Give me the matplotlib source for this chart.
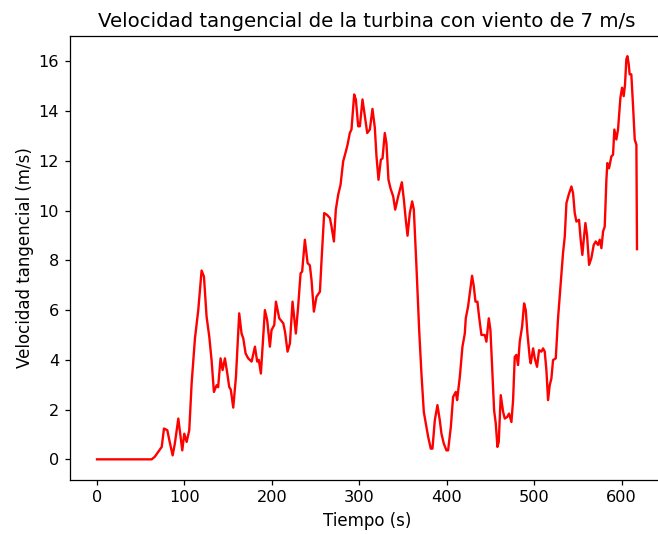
import matplotlib
matplotlib.use("Agg")
import matplotlib.pyplot as plt

# valores
tiempo = [0, 20, 40, 62.5, 66, 70, 74, 76.6, 80.4, 82.7, 86.5, 89, 93, 95.6, 97.5, 99.8,
          102.5, 105.5, 108.2, 112, 115.8, 119.6, 122.3, 125.3, 128.4, 131, 133.7, 136.8,
          138.5, 141.3, 143.6, 146.3, 149, 151.2, 153, 155.8, 158.9, 162.6, 165.3, 167.3,
          169.9, 172.9, 176.8, 180.6, 183.2, 185, 187.4, 192, 194.6, 197.7, 199.6, 202.7,
          204.6, 208.4, 213, 215, 217.9, 220.6, 223.6, 227.4, 230, 232.8, 234.6, 237.7,
          240.8, 243.4, 245.3, 248, 251, 254.9, 256.8, 259.8, 263, 266.3, 268.2, 270.9,
          273.1, 275.8, 278.5, 281.5, 284.6, 286.5, 289.1, 291, 294.1, 296, 298.7, 300.6,
          303.6, 306.3, 309, 312, 315, 317.7, 319.6, 321.9, 324.6, 326.5, 329.1, 331,
          333.3, 335.6, 338.7, 341, 344.4, 348.6, 350.9, 353.1, 355.1, 357.7, 360.4, 362.3,
          365.3, 368.4, 371, 373.7, 376, 378.7, 381.7, 383.6, 386.3, 389.3, 392, 393.9,
          396.6, 399.6, 401.5, 404.6, 407.2, 410.3, 411.8, 414.9, 417.9, 420.6, 421.7,
          424.3, 426.3, 428.9, 430.8, 432.8, 435, 436.9, 439.6, 443.4, 445.3, 448, 449.9,
          452.2, 454.1, 456, 457.9, 459.4, 461.7, 464.4, 466.3, 469, 471.2, 473.9, 475.8,
          477.7, 479.6, 481.5, 483.4, 486.1, 488.4, 490.3, 492.2, 494.9, 496, 498.7, 500.6,
          503.2, 505.5, 508.2, 510.1, 512, 513.9, 515.8, 517.7, 519.6, 521.5, 524.6, 527.2,
          530.3, 532.9, 534.9, 536.8, 539.4, 542.5, 544.4, 546.3, 548.2, 551.2, 553.1, 555,
          556.6, 558.5, 560.4, 562.7, 565.3, 568, 570.3, 572.9, 574.9, 576.8, 578.7, 580.6,
          582.5, 583.6, 585.5, 588.2, 590.1, 591.6, 593.9, 595.8, 598.5, 600.4, 602.3,
          603.8, 605.3, 606.5, 608, 609.1, 611, 613, 614.9, 616.8, 617.5]
velocidad = [0, 0, 0, 0, 0.1, 0.3, 0.5, 1.24, 1.17, 0.77, 0.16, 0.63, 1.64, 0.9, 0.36, 1.03,
             0.7, 1.17, 3.05, 4.86, 6.0, 7.59, 7.35, 5.74, 4.93, 3.99, 2.71, 2.98,
             2.9, 4.06, 3.59, 4.06, 3.45, 2.91, 2.8, 2.08, 3.32, 5.87, 5.06, 4.86,
             4.26, 4.06, 3.93, 4.53, 3.93, 4.0, 3.45, 6.0, 5.6, 4.53, 5.2, 5.4,
             6.34, 5.67, 5.47, 5.13, 4.33, 4.66, 6.34, 5.06, 6.14, 7.48, 7.55, 8.83,
             7.89, 7.8, 7.21, 5.94, 6.54, 6.74, 8.02, 9.9, 9.83, 9.7, 9.36, 8.76,
             10.04, 10.64, 11.04, 11.98, 12.38, 12.65, 13.12, 13.26, 14.67, 14.47, 13.39, 13.39,
             14.47, 13.8, 13.12, 13.26, 14.09, 13.33, 12.18, 11.24, 12.05, 12.1, 13.12, 12.7,
             11.24, 10.9, 10.57, 10.04, 10.57, 11.14, 10.44, 9.63, 8.99, 9.9, 10.37, 10.04,
             7.75, 5.2, 3.45, 1.91, 1.44, 0.9, 0.43, 0.43, 1.57, 2.18, 1.57, 1.03,
             0.63, 0.36, 0.36, 1.3, 2.51, 2.71, 2.38, 3.32, 4.53, 5.06, 5.67,
             6.14, 6.68, 7.38, 6.98, 6.34, 6.34, 5.74, 5.0, 5.0, 4.73, 5.67, 5.2,
             3.45, 1.97, 1.44, 0.5, 0.7, 2.58, 1.91, 1.64, 1.7, 1.84, 1.5, 2.38,
             4.12, 4.2, 3.79, 4.73, 5.33, 6.27, 6.0, 5.06, 4.06, 3.86, 4.46, 4.06,
             3.72, 4.39, 4.33, 4.46, 4.33, 3.59, 2.38, 2.98, 3.25, 3.99, 4.06, 5.67,
             7.08, 8.29, 8.96, 10.3, 10.64, 10.97, 10.7, 9.9, 9.56, 9.63, 8.83, 8.22,
             8.83, 9.5, 9.0, 7.82, 8.09, 8.62, 8.76, 8.62, 8.83, 8.49, 9.16, 9.36,
             11.24, 11.91, 11.7, 12.18, 12.25, 13.26, 12.86, 13.26, 14.53, 14.94, 14.6,
             15.07, 16.08, 16.21, 15.9, 15.48, 15.48, 14.2, 12.86, 12.65, 8.45]

s = 1.13  # escala de la figura original

fig = plt.figure(figsize=(6.58, 5.35), dpi=100)
ax = fig.add_axes([70 / 658, 1 - 479.5 / 535, 594 / 658, 443.5 / 535])

ax.plot(tiempo, velocidad, color="red", linewidth=1.5 * s)

ax.set_xticks([0, 100, 200, 300, 400, 500, 600])
ax.set_yticks([0, 2, 4, 6, 8, 10, 12, 14, 16])
ax.tick_params(labelsize=11.6, length=3.5 * s, width=0.8 * s, pad=3.5 * s)
for sp in ax.spines.values():
    sp.set_linewidth(0.8 * s)

ax.set_title("Velocidad tangencial de la turbina con viento de 7 m/s", fontsize=14.2, pad=6 * s)
ax.set_xlabel("Tiempo (s)", fontsize=12, labelpad=4 * s)
ax.set_ylabel("Velocidad tangencial (m/s)", fontsize=12, labelpad=3 * s)

fig.savefig("out.png", dpi=100)
